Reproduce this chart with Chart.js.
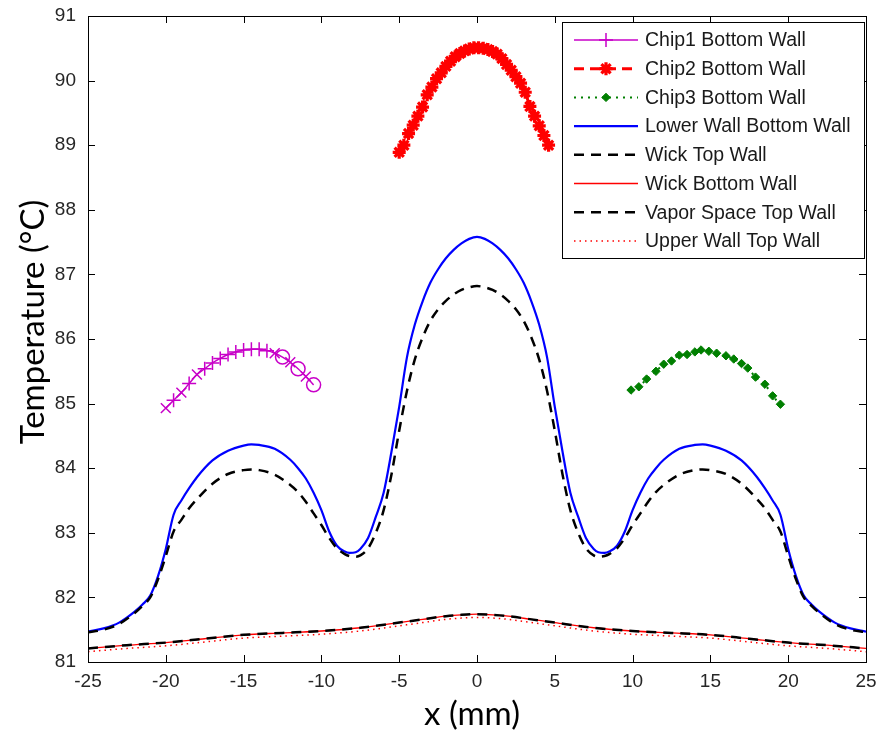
<!DOCTYPE html>
<html><head><meta charset="utf-8">
<script src="https://cdn.jsdelivr.net/npm/chart.js@4/dist/chart.umd.min.js"></script>
<style>html,body{margin:0;padding:0;background:#fff}</style>
</head><body>
<canvas id="c" width="878" height="734" style="display:block;width:878px;height:734px"></canvas>
<script>
// ---------- DATA ----------
const xTicks = [-25,-20,-15,-10,-5,0,5,10,15,20,25];
const yTicks = [81,82,83,84,85,86,87,88,89,90,91];
const xTitle = "x (mm)";
const yTitle = "Temperature (°C)";

const seriesLabels = ["Chip1 Bottom Wall","Chip2 Bottom Wall","Chip3 Bottom Wall","Lower Wall Bottom Wall","Wick Top Wall","Wick Bottom Wall","Vapor Space Top Wall","Upper Wall Top Wall"];

const chip1X = [-20,-19.5,-19,-18.5,-18,-17.5,-17,-16.5,-16,-15.5,-15,-14.5,-14,-13.5,-13,-12.5,-12,-11.5,-11,-10.5];
const chip1Y = [84.93,85.05,85.17,85.31,85.45,85.54,85.63,85.70,85.76,85.80,85.83,85.84,85.84,85.82,85.78,85.72,85.64,85.54,85.42,85.29];

const chip2X = [-5,-4.7,-4.4,-4.1,-3.8,-3.5,-3.2,-2.9,-2.6,-2.3,-2.0,-1.7,-1.4,-1.1,-0.8,-0.5,-0.2,0.1,0.4,0.7,1.0,1.3,1.6,1.9,2.2,2.5,2.8,3.1,3.4,3.7,4.0,4.3,4.6];
const chip2Y = [88.89,89.00,89.18,89.31,89.45,89.59,89.78,89.90,90.03,90.12,90.22,90.30,90.37,90.42,90.46,90.49,90.51,90.51,90.50,90.48,90.45,90.41,90.34,90.25,90.16,90.06,89.96,89.82,89.60,89.45,89.30,89.15,89.00];

const chip3X = [9.9,10.4,10.9,11.5,12.0,12.5,13.0,13.5,14.0,14.4,14.9,15.4,16.0,16.5,17.0,17.4,17.9,18.5,19.0,19.5];
const chip3Y = [85.21,85.26,85.38,85.50,85.61,85.66,85.75,85.76,85.80,85.83,85.81,85.78,85.74,85.69,85.62,85.55,85.41,85.30,85.12,84.99];

const mainX = [-25,-24,-23,-22,-21.5,-21,-20.5,-20,-19.5,-19,-18.5,-18,-17,-16,-15,-14.5,-14,-13,-12,-11.5,-11,-10.5,-10,-9.5,-9,-8.5,-8.2,-7.8,-7.5,-7,-6.5,-6,-5.5,-5,-4.5,-4,-3.5,-3,-2.5,-2,-1.5,-1,-0.5,0,
  0.5,1,1.5,2,2.5,3,3.5,4,4.5,5,5.5,6,6.5,7,7.5,7.8,8.2,8.5,9,9.5,10,10.5,11,11.5,12,13,14,14.5,15,16,17,18,18.5,19,19.5,20,20.5,21,21.5,22,23,24,25];

const lowerWallBottom = [81.47,81.52,81.61,81.78,81.89,82.03,82.33,82.75,83.28,83.50,83.69,83.86,84.12,84.27,84.35,84.37,84.36,84.30,84.13,84.00,83.84,83.62,83.35,83.02,82.80,82.71,82.69,82.70,82.75,82.92,83.25,83.62,84.25,84.95,85.72,86.22,86.58,86.87,87.08,87.25,87.38,87.48,87.55,87.58,
  87.55,87.48,87.38,87.25,87.08,86.87,86.58,86.22,85.72,84.95,84.25,83.62,83.25,82.92,82.75,82.70,82.69,82.71,82.80,83.02,83.35,83.62,83.84,84.00,84.13,84.30,84.36,84.37,84.35,84.27,84.12,83.86,83.69,83.50,83.28,82.75,82.33,82.03,81.89,81.78,81.61,81.52,81.47];

const wickTop = [81.46,81.50,81.59,81.76,81.87,82.00,82.28,82.64,83.02,83.20,83.38,83.52,83.76,83.91,83.97,83.98,83.97,83.90,83.74,83.63,83.48,83.30,83.12,82.92,82.76,82.67,82.64,82.63,82.65,82.76,83.00,83.35,83.90,84.58,85.20,85.68,86.02,86.28,86.46,86.59,86.69,86.76,86.80,86.82,
  86.80,86.76,86.69,86.59,86.46,86.28,86.02,85.68,85.20,84.58,83.90,83.35,83.00,82.76,82.65,82.63,82.64,82.67,82.76,82.92,83.12,83.30,83.48,83.63,83.74,83.90,83.97,83.98,83.97,83.91,83.76,83.52,83.38,83.20,83.02,82.64,82.28,82.00,81.87,81.76,81.59,81.50,81.46];

const lowX = [-25,-22.5,-20,-17.5,-15,-12.5,-10,-7.5,-5,-3.5,-2,-1,0,1,2,3.5,5,7.5,10,12.5,15,17.5,20,22.5,25];
const wickBottom = [81.21,81.26,81.30,81.36,81.42,81.45,81.48,81.53,81.61,81.66,81.71,81.73,81.74,81.73,81.71,81.66,81.61,81.53,81.48,81.45,81.42,81.36,81.30,81.26,81.21];
const vaporTop = [81.21,81.26,81.30,81.36,81.42,81.45,81.48,81.53,81.61,81.66,81.71,81.73,81.74,81.73,81.71,81.66,81.61,81.53,81.48,81.45,81.42,81.36,81.30,81.26,81.21];
const upperTop = [81.16,81.21,81.25,81.31,81.37,81.40,81.43,81.48,81.56,81.61,81.66,81.68,81.69,81.68,81.66,81.61,81.56,81.48,81.43,81.40,81.37,81.31,81.25,81.21,81.16];

// ---------- build ----------
const pts = (xs, ys) => xs.map((x, i) => ({x: x, y: ys[i]}));
const chip1Styles = chip1X.map((_, i) => i < 6 ? (i % 2 ? 'cross' : 'crossRot') : (i < 14 ? 'cross' : (i % 2 ? 'circle' : 'crossRot')));

const datasets = [
  {label: seriesLabels[0], data: pts(chip1X, chip1Y), borderColor: '#c800c8', backgroundColor: 'rgba(0,0,0,0)', borderWidth: 1.5,
   pointStyle: chip1Styles, pointRadius: 7, pointBorderWidth: 1.5, pointBorderColor: '#c800c8', legendPoint: 'cross'},
  {label: seriesLabels[1], data: pts(chip2X, chip2Y), borderColor: '#ff0000', backgroundColor: '#ff0000', borderWidth: 3, borderDash: [10, 6],
   pointStyle: 'star', pointRadius: 6.5, pointBorderWidth: 3.2, pointBorderColor: '#ff0000', legendPoint: 'star'},
  {label: seriesLabels[2], data: pts(chip3X, chip3Y), borderColor: '#007f00', backgroundColor: '#007f00', borderWidth: 2, borderDash: [2, 5],
   pointStyle: 'rectRot', pointRadius: 4.2, pointBorderWidth: 1, pointBorderColor: '#007f00', pointBackgroundColor: '#007f00', legendPoint: 'rectRot'},
  {label: seriesLabels[3], data: pts(mainX, lowerWallBottom), borderColor: '#0000ff', borderWidth: 2.2, pointRadius: 0},
  {label: seriesLabels[4], data: pts(mainX, wickTop), borderColor: '#000000', borderWidth: 2.5, borderDash: [10, 7], pointRadius: 0},
  {label: seriesLabels[5], data: pts(lowX, wickBottom), borderColor: '#ff0000', borderWidth: 1.3, pointRadius: 0},
  {label: seriesLabels[6], data: pts(lowX, vaporTop), borderColor: '#000000', borderWidth: 2.5, borderDash: [10, 7], pointRadius: 0},
  {label: seriesLabels[7], data: pts(lowX, upperTop), borderColor: '#ff0000', borderWidth: 1.5, borderDash: [1.5, 4], pointRadius: 0}
];
datasets.forEach((d, i) => { d.order = -i; d.showLine = true; d.fill = false; d.cubicInterpolationMode = 'monotone'; });

const TICK_FONT = {family: '"Liberation Sans", Arial, sans-serif', size: 19};
const TITLE_FONT = '33px Lato, "Open Sans", sans-serif';

const framePlugin = {
  id: 'frameTicks',
  afterDatasetsDraw(chart) {
    const {ctx, chartArea: a, scales} = chart;
    ctx.save();
    ctx.strokeStyle = '#000'; ctx.lineWidth = 1;
    ctx.strokeRect(Math.round(a.left) + 0.5, Math.round(a.top) + 0.5, Math.round(a.right - a.left), Math.round(a.bottom - a.top));
    ctx.beginPath();
    const L = 7;
    xTicks.forEach(v => {
      const x = Math.round(scales.x.getPixelForValue(v)) + 0.5;
      ctx.moveTo(x, a.bottom); ctx.lineTo(x, a.bottom - L);
      ctx.moveTo(x, a.top); ctx.lineTo(x, a.top + L);
    });
    yTicks.forEach(v => {
      const y = Math.round(scales.y.getPixelForValue(v)) + 0.5;
      ctx.moveTo(a.left, y); ctx.lineTo(a.left + L, y);
      ctx.moveTo(a.right, y); ctx.lineTo(a.right - L, y);
    });
    ctx.stroke();
    // axis titles
    ctx.fillStyle = '#000';
    ctx.font = TITLE_FONT;
    ctx.textAlign = 'center';
    ctx.textBaseline = 'alphabetic';
    ctx.fillText(xTitle, 472, 725);
    ctx.save();
    ctx.translate(44, 322);
    ctx.rotate(-Math.PI / 2);
    ctx.fillText(yTitle, 0, 0);
    ctx.restore();
    ctx.restore();
  }
};

const legendPlugin = {
  id: 'boxLegend',
  afterDraw(chart) {
    const ctx = chart.ctx;
    const x0 = 562, y0 = 22, w = 302, h = 236;
    ctx.save();
    ctx.fillStyle = '#fff'; ctx.fillRect(x0, y0, w, h);
    ctx.strokeStyle = '#000'; ctx.lineWidth = 1; ctx.strokeRect(x0 + 0.5, y0 + 0.5, w, h);
    chart.data.datasets.forEach((ds, i) => {
      const y = 40 + i * 28.7;
      ctx.save();
      ctx.strokeStyle = ds.borderColor; ctx.lineWidth = ds.borderWidth;
      ctx.setLineDash(ds.borderDash || []);
      ctx.beginPath(); ctx.moveTo(574, y); ctx.lineTo(638, y); ctx.stroke();
      ctx.restore();
      if (ds.legendPoint && Chart.helpers && Chart.helpers.drawPoint) {
        ctx.save();
        ctx.strokeStyle = ds.pointBorderColor; ctx.fillStyle = ds.pointBackgroundColor || ds.pointBorderColor;
        ctx.lineWidth = ds.pointBorderWidth;
        Chart.helpers.drawPoint(ctx, {pointStyle: ds.legendPoint, radius: ds.pointRadius, borderWidth: ds.pointBorderWidth, rotation: 0}, 606, y);
        ctx.restore();
      }
      ctx.fillStyle = '#1a1a1a';
      ctx.font = '19.5px "Liberation Sans", Arial, sans-serif';
      ctx.textBaseline = 'middle';
      ctx.fillText(ds.label, 645, y + 1);
    });
    ctx.restore();
  }
};

new Chart(document.getElementById('c'), {
  type: 'scatter',
  data: {datasets: datasets},
  options: {
    responsive: false,
    animation: false,
    devicePixelRatio: 1,
    layout: {padding: {left: 0, right: 12, top: 16, bottom: 0}},
    plugins: {legend: {display: false}, tooltip: {enabled: false}},
    elements: {line: {tension: 0.4}},
    scales: {
      x: {
        type: 'linear', min: -25, max: 25,
        afterBuildTicks: s => { s.ticks = xTicks.map(v => ({value: v})); },
        afterFit: s => { s.height = 72; s.paddingLeft = 0; s.paddingRight = 0; },
        grid: {display: false, drawTicks: false},
        border: {display: false},
        ticks: {font: TICK_FONT, color: '#262626', padding: 8, maxRotation: 0, autoSkip: false}
      },
      y: {
        type: 'linear', min: 81, max: 91,
        afterBuildTicks: s => { s.ticks = yTicks.map(v => ({value: v})); },
        afterFit: s => { s.width = 88; s.paddingTop = 0; s.paddingBottom = 0; },
        grid: {display: false, drawTicks: false},
        border: {display: false},
        ticks: {font: TICK_FONT, color: '#262626', padding: 12, autoSkip: false}
      }
    }
  },
  plugins: [framePlugin, legendPlugin]
});
</script>
</body></html>
